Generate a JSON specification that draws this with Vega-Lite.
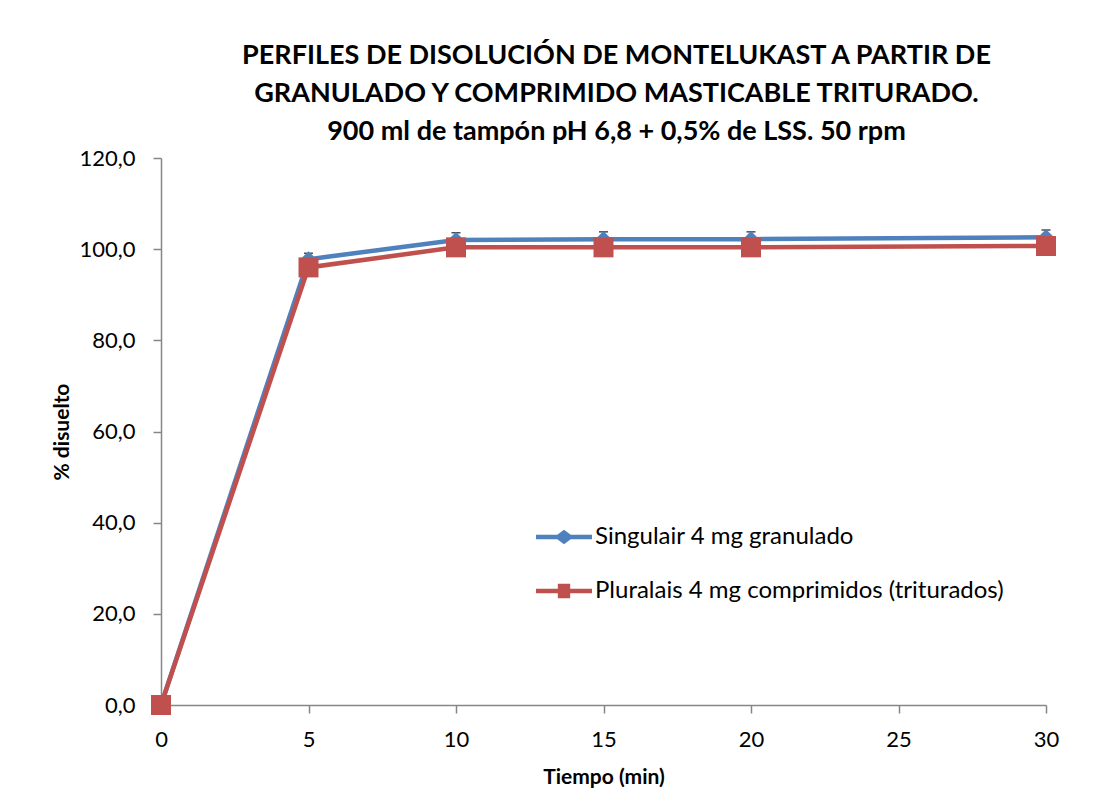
{
  "$schema": "https://vega.github.io/schema/vega-lite/v6.json",
  "width": 885,
  "height": 547,
  "autosize": {"type": "none"},
  "padding": {"left": 161, "top": 158, "right": 67, "bottom": 87},
  "background": "white",
  "title": {
    "text": ["PERFILES DE DISOLUCIÓN DE MONTELUKAST A PARTIR DE", "GRANULADO Y COMPRIMIDO MASTICABLE TRITURADO.", "900 ml de tampón pH 6,8 + 0,5% de LSS. 50 rpm"],
    "font": "Lato",
    "fontSize": 27,
    "fontWeight": "bold",
    "color": "black",
    "lineHeight": 38,
    "anchor": "middle",
    "dx": 13,
    "offset": 1
  },
  "config": {
    "view": {"stroke": null},
    "axis": {
      "grid": false,
      "domainColor": "#868686",
      "domainWidth": 1.5,
      "tickColor": "#868686",
      "tickWidth": 1.5,
      "tickSize": 8,
      "labelFont": "Lato",
      "labelFontSize": 22,
      "labelColor": "black",
      "titleFont": "Lato",
      "titleFontSize": 21,
      "titleFontWeight": "bold",
      "titleColor": "black"
    }
  },
  "data": {
    "values": [
      {"t": 0, "v": 0, "sd": 0, "serie": "Singulair 4 mg granulado"},
      {"t": 5, "v": 97.8, "sd": 1.3, "serie": "Singulair 4 mg granulado"},
      {"t": 10, "v": 102.0, "sd": 1.6, "serie": "Singulair 4 mg granulado"},
      {"t": 15, "v": 102.2, "sd": 1.6, "serie": "Singulair 4 mg granulado"},
      {"t": 20, "v": 102.2, "sd": 1.6, "serie": "Singulair 4 mg granulado"},
      {"t": 30, "v": 102.6, "sd": 1.6, "serie": "Singulair 4 mg granulado"},
      {"t": 0, "v": 0, "sd": 0, "serie": "Pluralais 4 mg comprimidos (triturados)"},
      {"t": 5, "v": 96.0, "sd": 1.0, "serie": "Pluralais 4 mg comprimidos (triturados)"},
      {"t": 10, "v": 100.4, "sd": 1.0, "serie": "Pluralais 4 mg comprimidos (triturados)"},
      {"t": 15, "v": 100.4, "sd": 1.0, "serie": "Pluralais 4 mg comprimidos (triturados)"},
      {"t": 20, "v": 100.4, "sd": 1.0, "serie": "Pluralais 4 mg comprimidos (triturados)"},
      {"t": 30, "v": 100.7, "sd": 1.0, "serie": "Pluralais 4 mg comprimidos (triturados)"}
    ]
  },
  "encoding": {
    "x": {
      "field": "t", "type": "quantitative",
      "scale": {"domain": [0, 30], "nice": false, "zero": false},
      "axis": {"values": [0, 5, 10, 15, 20, 25, 30], "title": "Tiempo (min)", "labelPadding": 16, "titlePadding": 16, "labelFlush": false}
    },
    "y": {
      "field": "v", "type": "quantitative",
      "scale": {"domain": [0, 120], "nice": false},
      "axis": {"values": [0, 20, 40, 60, 80, 100, 120], "title": "% disuelto", "labelPadding": 18, "titlePadding": 6,
        "labelExpr": "replace(format(datum.value, '.1f'), '.', ',')"}
    }
  },
  "layer": [
    {
      "mark": {"type": "line", "strokeWidth": 4.5},
      "encoding": {
        "color": {
          "field": "serie", "type": "nominal",
          "scale": {"domain": ["Singulair 4 mg granulado", "Pluralais 4 mg comprimidos (triturados)"], "range": ["#4F81BD", "#C0504D"]},
          "legend": {
            "title": null,
            "orient": "none",
            "legendX": 375,
            "legendY": 351,
            "padding": 0,
            "symbolSize": 3136,
            "symbolStrokeWidth": 0,
            "rowPadding": 14,
            "labelOffset": 3,
            "labelFont": "Lato",
            "labelFontSize": 24,
            "labelColor": "black",
            "labelLimit": 600,
            "encode": {
              "symbols": {
                "update": {
                  "shape": {"signal": "datum.value === 'Singulair 4 mg granulado' ? 'M-1,-0.08L-0.24,-0.08L0,-0.26L0.24,-0.08L1,-0.08L1,0.08L0.24,0.08L0,0.26L-0.24,0.08L-1,0.08Z' : 'M-1,-0.08L-0.22,-0.08L-0.22,-0.26L0.22,-0.26L0.22,-0.08L1,-0.08L1,0.08L0.22,0.08L0.22,0.26L-0.22,0.26L-0.22,0.08L-1,0.08Z'"},
                  "fill": {"signal": "datum.value === 'Singulair 4 mg granulado' ? '#4F81BD' : '#C0504D'"},
                  "fillOpacity": {"value": 1},
                  "opacity": {"value": 1},
                  "strokeWidth": {"value": 0}
                }
              }
            }
          }
        }
      }
    },
    {
      "transform": [{"filter": "datum.sd > 0"}],
      "mark": {"type": "errorbar", "ticks": {"size": 9, "color": "black", "thickness": 1.5}, "rule": {"color": "black", "strokeWidth": 1.2}},
      "encoding": {
        "y": {"field": "v", "type": "quantitative"},
        "yError": {"field": "sd"}
      }
    },
    {
      "transform": [{"filter": "datum.serie === 'Singulair 4 mg granulado'"}],
      "mark": {"type": "point", "filled": true, "opacity": 1, "shape": "diamond", "size": 260, "color": "#4F81BD"}
    },
    {
      "transform": [{"filter": "datum.serie === 'Pluralais 4 mg comprimidos (triturados)'"}],
      "mark": {"type": "point", "filled": true, "opacity": 1, "shape": "square", "size": 400, "color": "#C0504D"}
    }
  ]
}
